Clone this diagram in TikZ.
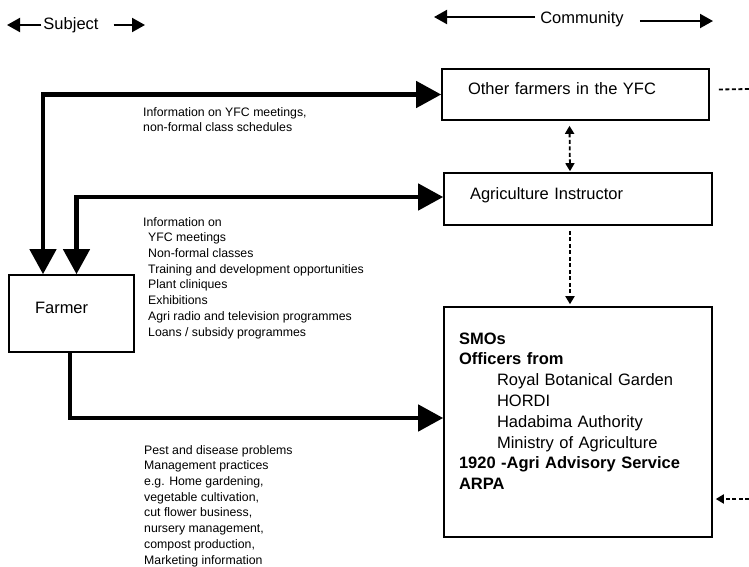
\documentclass[tikz,border=0pt]{standalone}
\usepackage{fontspec}
\setmainfont{Liberation Sans}
\usetikzlibrary{arrows.meta, positioning}
\newcommand\boxfont{\fontsize{16.5}{20.8}\selectfont}
\newcommand\infofont{\fontsize{12.3}{15.7}\selectfont}

\begin{document}
\begin{tikzpicture}[x=1pt, y=-1pt,
  box/.style={draw, line width=1.6pt, inner xsep=26pt, align=left, text height=12pt, text depth=12pt, font=\boxfont},
  info/.style={anchor=north west, inner sep=0pt, align=left, font=\infofont},
  big/.style={line width=4.5pt, >={Triangle[length=25pt,width=26pt]}},
  dashar/.style={line width=1.8pt, dash pattern=on 4pt off 2.5pt, >={Triangle[length=8pt,width=9pt]}},
  hdrar/.style={line width=2pt, >={Triangle[length=13pt,width=14pt]}}]
\useasboundingbox (0,0) rectangle (749,566);

% header
\node[font=\boxfont, inner sep=2pt] (subj) at (71,25) {Subject};
\node[font=\boxfont, inner sep=2pt] (comm) at (582,19) {Community};
\coordinate (subjL) at (7,25);
\coordinate (subjR) at (145,25);
\coordinate (commL) at (434,17);
\coordinate (commR) at (713,21);
\draw[hdrar,->] (subj.west) -- (subjL);
\draw[hdrar,->] ([xshift=13pt]subj.east) -- (subjR);
\draw[hdrar,->] ([xshift=-3pt]comm.west |- commL) -- (commL);
\draw[hdrar,->] ([xshift=14pt]comm.east |- commR) -- (commR);

% boxes
\node[box, text width=215pt, minimum height=51pt] (yfc) at (575.5,94.5) {Other farmers in the YFC};
\node[box, text width=216pt, minimum height=52pt] (agri) at (578,199) {Agriculture Instructor};
\node[box, text width=73pt, minimum height=77pt] (farmer) at (71.5,313.5) {Farmer};
\node[box, inner xsep=15pt, inner ysep=0pt, text width=238pt, text height=37pt, text depth=193pt] (smo) at (578,422) {%
  \textbf{SMOs}\\
  \textbf{Officers from}\\
  \hspace*{38pt}Royal Botanical Garden\\
  \hspace*{38pt}HORDI\\
  \hspace*{38pt}Hadabima Authority\\
  \hspace*{38pt}Ministry of Agriculture\\
  \textbf{1920 -Agri Advisory Service}\\
  \textbf{ARPA}};

% labels
\node[info] (info1) at (143,107) {Information on YFC meetings,\\non-formal class schedules};
\node[info] (info2) at (143,217) {Information on\\
  \hspace*{5pt}YFC meetings\\
  \hspace*{5pt}Non-formal classes\\
  \hspace*{5pt}Training and development opportunities\\
  \hspace*{5pt}Plant cliniques\\
  \hspace*{5pt}Exhibitions\\
  \hspace*{5pt}Agri radio and television programmes\\
  \hspace*{5pt}Loans / subsidy programmes};
\node[info] (info3) at (144,445) {Pest and disease problems\\
  Management practices\\
  e.g. Home gardening,\\
  vegetable cultivation,\\
  cut flower business,\\
  nursery management,\\
  compost production,\\
  Marketing information};

% connectors
\draw[big,<->] ([xshift=-28.5pt]farmer.north) |- (yfc.west);
\draw[big,<->] ([xshift=5pt]farmer.north) |- ([yshift=2pt]agri.west);
\draw[big,->] ([xshift=-1.5pt]farmer.south) |- ([yshift=4pt]smo.west);
\draw[dashar,<->] ([xshift=-6pt,yshift=-5pt]yfc.south) -- ([xshift=-8pt,yshift=1pt]agri.north);
\draw[dashar,->] ([xshift=-8pt,yshift=-5pt]agri.south) -- ([xshift=-8pt,yshift=2pt]smo.north);
\coordinate (edgeA) at (749,89);
\coordinate (edgeB) at (749,499);
\draw[dashar] ([xshift=9pt,yshift=5pt]yfc.east) -- (edgeA);
\draw[dashar,->] (edgeB) -- ([xshift=3pt]smo.east |- edgeB);
\end{tikzpicture}
\end{document}
